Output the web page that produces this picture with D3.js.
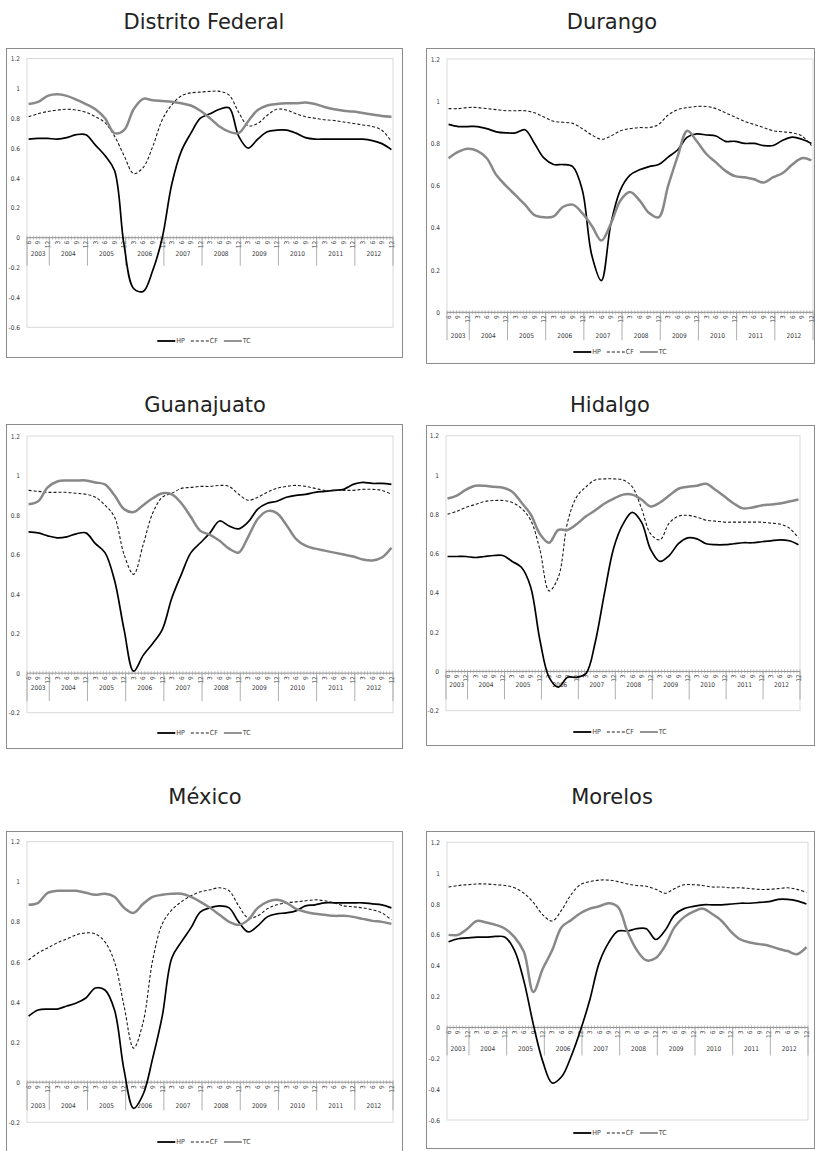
<!DOCTYPE html>
<html>
<head>
<meta charset="utf-8">
<script src="https://cdn.jsdelivr.net/npm/d3@7"></script>
<style>
  body { margin: 0; background: #fff; }
  svg { display: block; }
  .title { font-family: "DejaVu Sans", Verdana, sans-serif; font-size: 21px; fill: #222; }
  .small { font-family: "Liberation Sans Narrow", "DejaVu Sans Condensed", "Liberation Sans", sans-serif; fill: #3a3a3a; }
</style>
</head>
<body>
<svg id="chart" width="815" height="1151"></svg>
<script>
// categories: one per month, Jun 2003 .. Dec 2012
const years = ["2003", "2004", "2005", "2006", "2007", "2008", "2009", "2010", "2011", "2012"];
const seriesNames = ["HP", "CF", "TC"];
const months = d3.timeMonth.range(new Date(2003, 5, 1), new Date(2013, 0, 1));
const monthKey = d3.timeFormat("%Y-%m");
// series at the labelled months (6, 9, 12, 3, ...)
const quarters = months.filter(d => d.getMonth() % 3 === 2);

// Distrito Federal
const dfHP = [0.66,0.665,0.665,0.66,0.67,0.69,0.69,0.62,0.55,0.45,-0.05,-0.34,-0.36,-0.22,0.0,0.36,0.58,0.70,0.80,0.83,0.86,0.87,0.68,0.60,0.66,0.71,0.72,0.72,0.70,0.67,0.66,0.66,0.66,0.66,0.66,0.66,0.65,0.63,0.59];
const dfCF = [0.81,0.83,0.845,0.855,0.86,0.855,0.84,0.81,0.77,0.68,0.55,0.43,0.47,0.61,0.79,0.89,0.95,0.97,0.975,0.98,0.98,0.955,0.84,0.75,0.765,0.82,0.86,0.855,0.83,0.81,0.80,0.79,0.785,0.775,0.765,0.755,0.745,0.72,0.645];
const dfTC = [0.895,0.91,0.95,0.96,0.95,0.925,0.895,0.86,0.80,0.70,0.72,0.86,0.93,0.92,0.915,0.91,0.90,0.885,0.85,0.80,0.745,0.71,0.70,0.78,0.855,0.885,0.895,0.90,0.90,0.905,0.895,0.875,0.86,0.85,0.845,0.835,0.825,0.815,0.81];

// Durango
const durHP = [0.89,0.88,0.88,0.88,0.87,0.855,0.85,0.85,0.865,0.80,0.73,0.70,0.70,0.69,0.58,0.27,0.15,0.42,0.58,0.65,0.675,0.69,0.70,0.735,0.77,0.83,0.845,0.84,0.835,0.81,0.81,0.80,0.80,0.79,0.79,0.815,0.83,0.82,0.80];
const durCF = [0.965,0.965,0.97,0.97,0.965,0.96,0.955,0.955,0.955,0.945,0.925,0.905,0.90,0.895,0.87,0.84,0.82,0.835,0.86,0.87,0.875,0.875,0.89,0.935,0.96,0.97,0.975,0.975,0.965,0.945,0.925,0.905,0.89,0.875,0.86,0.855,0.85,0.835,0.79];
const durTC = [0.73,0.76,0.775,0.765,0.73,0.65,0.60,0.555,0.51,0.46,0.45,0.455,0.50,0.51,0.47,0.41,0.34,0.42,0.53,0.57,0.53,0.47,0.45,0.60,0.74,0.86,0.81,0.75,0.71,0.67,0.645,0.64,0.63,0.615,0.64,0.66,0.70,0.73,0.72];

// Guanajuato
const guaHP = [0.715,0.71,0.695,0.685,0.69,0.705,0.71,0.655,0.61,0.47,0.22,0.01,0.09,0.15,0.22,0.38,0.50,0.61,0.66,0.71,0.77,0.745,0.73,0.765,0.83,0.86,0.87,0.89,0.90,0.905,0.915,0.92,0.925,0.93,0.955,0.965,0.96,0.96,0.955];
const guaCF = [0.925,0.92,0.915,0.915,0.915,0.91,0.905,0.89,0.85,0.79,0.60,0.50,0.65,0.81,0.89,0.91,0.935,0.94,0.945,0.945,0.95,0.945,0.905,0.875,0.89,0.915,0.935,0.945,0.95,0.945,0.935,0.925,0.925,0.925,0.925,0.93,0.93,0.925,0.905];
const guaTC = [0.855,0.87,0.94,0.97,0.975,0.975,0.975,0.965,0.955,0.90,0.83,0.815,0.85,0.885,0.91,0.905,0.86,0.79,0.72,0.70,0.67,0.63,0.61,0.69,0.78,0.82,0.81,0.75,0.68,0.645,0.63,0.62,0.61,0.60,0.59,0.575,0.57,0.585,0.635];

// Hidalgo
const hidHP = [0.585,0.585,0.585,0.58,0.585,0.59,0.59,0.56,0.53,0.43,0.16,-0.03,-0.08,-0.03,-0.03,-0.01,0.15,0.40,0.63,0.75,0.81,0.76,0.62,0.56,0.59,0.65,0.68,0.675,0.65,0.645,0.645,0.65,0.655,0.655,0.66,0.665,0.67,0.665,0.645];
const hidCF = [0.80,0.815,0.835,0.85,0.865,0.87,0.87,0.86,0.83,0.77,0.62,0.41,0.48,0.76,0.89,0.94,0.975,0.98,0.98,0.975,0.94,0.83,0.70,0.67,0.755,0.79,0.795,0.785,0.77,0.765,0.76,0.76,0.76,0.76,0.76,0.755,0.75,0.73,0.68];
const hidTC = [0.88,0.895,0.925,0.945,0.945,0.94,0.935,0.915,0.86,0.80,0.70,0.655,0.72,0.72,0.75,0.79,0.82,0.855,0.88,0.90,0.90,0.875,0.84,0.86,0.895,0.93,0.94,0.945,0.955,0.925,0.89,0.855,0.83,0.835,0.845,0.85,0.855,0.865,0.875];

// México
const mexHP = [0.33,0.36,0.365,0.365,0.38,0.395,0.42,0.47,0.46,0.36,0.06,-0.13,-0.06,0.12,0.33,0.62,0.70,0.77,0.85,0.87,0.88,0.87,0.80,0.75,0.78,0.825,0.84,0.845,0.855,0.88,0.885,0.895,0.895,0.895,0.895,0.895,0.89,0.885,0.87];
const mexCF = [0.61,0.645,0.67,0.695,0.715,0.735,0.745,0.74,0.70,0.60,0.38,0.17,0.30,0.61,0.79,0.86,0.90,0.93,0.95,0.96,0.97,0.955,0.88,0.82,0.83,0.865,0.885,0.895,0.90,0.905,0.91,0.905,0.895,0.88,0.875,0.87,0.86,0.845,0.81];
const mexTC = [0.885,0.895,0.945,0.955,0.955,0.955,0.945,0.935,0.94,0.925,0.87,0.845,0.89,0.925,0.935,0.94,0.94,0.925,0.90,0.87,0.835,0.80,0.785,0.81,0.87,0.90,0.91,0.895,0.865,0.85,0.84,0.835,0.83,0.83,0.825,0.815,0.805,0.80,0.79];

// Morelos
const morHP = [0.555,0.575,0.58,0.585,0.585,0.59,0.585,0.50,0.30,0.02,-0.22,-0.36,-0.32,-0.19,-0.02,0.18,0.42,0.55,0.625,0.625,0.64,0.64,0.57,0.63,0.73,0.77,0.785,0.795,0.795,0.795,0.80,0.805,0.805,0.81,0.815,0.83,0.83,0.82,0.80];
const morCF = [0.91,0.92,0.925,0.93,0.93,0.925,0.92,0.905,0.87,0.81,0.73,0.69,0.76,0.86,0.925,0.945,0.955,0.955,0.945,0.93,0.92,0.915,0.895,0.87,0.90,0.925,0.925,0.92,0.91,0.91,0.905,0.905,0.90,0.895,0.895,0.90,0.905,0.895,0.875];
const morTC = [0.60,0.60,0.64,0.69,0.68,0.665,0.64,0.585,0.49,0.23,0.38,0.50,0.65,0.695,0.74,0.77,0.785,0.805,0.78,0.62,0.50,0.435,0.45,0.53,0.65,0.715,0.75,0.77,0.735,0.69,0.62,0.57,0.55,0.54,0.53,0.51,0.495,0.475,0.52];

// panel layout (page pixels)
const panels = [
  { name: "Distrito Federal", series: [dfHP, dfCF, dfTC], yDomain: [-0.6, 1.2],
    title: [204, 22], box: [6, 48, 396, 309], plotX: [27, 393], plotY: [58.5, 327.3], yearDy: 16, legendY: 341 },
  { name: "Durango", series: [durHP, durCF, durTC], yDomain: [0, 1.2],
    title: [612, 22], box: [426, 48, 388, 315], plotX: [447, 813], plotY: [59, 312.3], yearDy: 24, legendY: 352 },
  { name: "Guanajuato", series: [guaHP, guaCF, guaTC], yDomain: [-0.2, 1.2],
    title: [205, 405], box: [6, 424, 396, 324], plotX: [27, 393], plotY: [436, 712.7], yearDy: 15, legendY: 733 },
  { name: "Hidalgo", series: [hidHP, hidCF, hidTC], yDomain: [-0.2, 1.2],
    title: [610, 405], box: [426, 425, 388, 320], plotX: [446, 800], plotY: [435.7, 710.7], yearDy: 14, legendY: 732 },
  { name: "México", series: [mexHP, mexCF, mexTC], yDomain: [-0.2, 1.2],
    title: [205, 797], box: [6, 831, 396, 330], plotX: [27, 393], plotY: [841.7, 1122.3], yearDy: 24, legendY: 1142 },
  { name: "Morelos", series: [morHP, morCF, morTC], yDomain: [-0.6, 1.2],
    title: [612, 797], box: [426, 831, 388, 317], plotX: [447, 808], plotY: [842.3, 1120], yearDy: 22, legendY: 1133 }
];

const lineStyle = {
  HP: { stroke: "#000", width: 1.7, dash: null },
  CF: { stroke: "#1a1a1a", width: 1.1, dash: "3,2" },
  TC: { stroke: "#888", width: 2.5, dash: null }
};

const svg = d3.select("#chart");

function drawPanel(p) {
  const g = svg.append("g");

  g.append("text").attr("class", "title")
    .attr("x", p.title[0]).attr("y", p.title[1])
    .attr("text-anchor", "middle").attr("dominant-baseline", "central")
    .text(p.name);

  g.append("rect")
    .attr("x", p.box[0] + 0.5).attr("y", p.box[1] + 0.5)
    .attr("width", p.box[2]).attr("height", p.box[3])
    .attr("fill", "#fff").attr("stroke", "#8c8c8c");

  const x = d3.scaleBand().domain(months.map(monthKey)).range(p.plotX);
  const xMid = d => x(monthKey(d)) + x.bandwidth() / 2;
  const y = d3.scaleLinear().domain(p.yDomain).range([p.plotY[1], p.plotY[0]]);

  // plot area frame
  g.append("rect")
    .attr("x", p.plotX[0]).attr("y", y(p.yDomain[1]))
    .attr("width", p.plotX[1] - p.plotX[0]).attr("height", y(p.yDomain[0]) - y(p.yDomain[1]))
    .attr("fill", "none").attr("stroke", "#d9d9d9");

  // value axis
  const yTicks = d3.range(Math.round(p.yDomain[0] * 10), Math.round(p.yDomain[1] * 10) + 1, 2).map(v => v / 10);
  const ya = g.append("g").attr("transform", `translate(${p.plotX[0]},0)`)
    .call(d3.axisLeft(y).tickValues(yTicks).tickSize(0).tickPadding(7)
      .tickFormat(v => String(Math.round(v * 10) / 10)));
  ya.select(".domain").remove();
  ya.selectAll("text").attr("class", "small").attr("font-size", 6.5).attr("font-family", null);

  // category axis on the zero line
  const y0 = y(0);
  const ax = g.append("g").attr("transform", `translate(0,${y0})`);
  ax.append("line").attr("x1", p.plotX[0]).attr("x2", p.plotX[1])
    .attr("stroke", "#8c8c8c").attr("stroke-width", 1);
  ax.selectAll(".mt").data(d3.range(months.length + 1)).join("line")
    .attr("x1", i => p.plotX[0] + i * x.bandwidth()).attr("x2", i => p.plotX[0] + i * x.bandwidth())
    .attr("y1", -2).attr("y2", 2).attr("stroke", "#9a9a9a").attr("stroke-width", 0.6);

  ax.selectAll(".ml").data(quarters).join("text")
    .attr("class", "small").attr("font-size", 6.5)
    .attr("transform", d => `translate(${xMid(d)},3) rotate(-90)`)
    .attr("text-anchor", "end").attr("dy", "0.35em")
    .text(d => d.getMonth() + 1);

  // year groups
  const yearStart = years.map(yr => months.find(m => m.getFullYear() === +yr));
  const seps = yearStart.map((m, i) => i === 0 ? p.plotX[0] : x(monthKey(m))).concat([p.plotX[1]]);
  ax.selectAll(".ys").data(seps).join("line")
    .attr("x1", d => d).attr("x2", d => d).attr("y1", 0).attr("y2", 28)
    .attr("stroke", "#9a9a9a").attr("stroke-width", 0.8);
  ax.selectAll(".yl").data(years).join("text")
    .attr("class", "small").attr("font-size", 6.5)
    .attr("x", (d, i) => (seps[i] + seps[i + 1]) / 2).attr("y", p.yearDy)
    .attr("text-anchor", "middle").attr("dominant-baseline", "central")
    .text(d => d);

  // series
  const line = d3.line()
    .x((d, i) => xMid(quarters[i]))
    .y(d => y(d))
    .curve(d3.curveCatmullRom.alpha(0.5));
  seriesNames.forEach((s, k) => {
    const st = lineStyle[s];
    g.append("path").datum(p.series[k])
      .attr("d", line).attr("fill", "none")
      .attr("stroke", st.stroke).attr("stroke-width", st.width)
      .attr("stroke-dasharray", st.dash);
  });

  // legend
  const lg = g.append("g");
  let cx = 0;
  seriesNames.forEach(s => {
    const st = lineStyle[s];
    lg.append("line").attr("x1", cx).attr("x2", cx + 18).attr("y1", 0).attr("y2", 0)
      .attr("stroke", st.stroke).attr("stroke-width", s === "CF" ? 1 : 1.8)
      .attr("stroke-dasharray", st.dash);
    const t = lg.append("text").attr("class", "small").attr("font-size", 7)
      .attr("x", cx + 19).attr("y", 0).attr("dominant-baseline", "central").text(s);
    cx += 19 + t.node().getComputedTextLength() + 6;
  });
  const lw = cx - 6;
  const boxMid = p.box[0] + Math.min(p.box[2], 396) / 2;
  lg.attr("transform", `translate(${boxMid - lw / 2},${p.legendY})`);
}

panels.forEach(drawPanel);
</script>
</body>
</html>
